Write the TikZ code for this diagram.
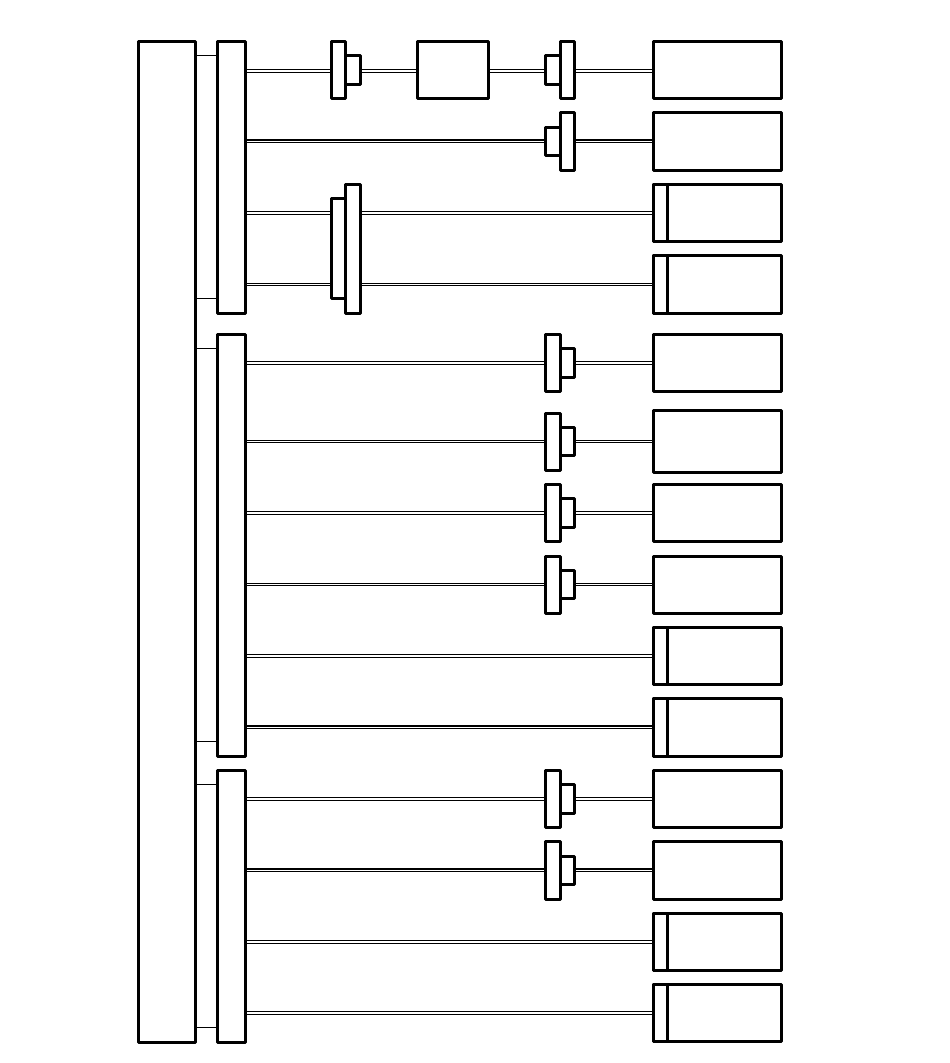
\documentclass[tikz,border=0pt]{standalone}
\usepackage{xcolor}
\usepackage{tikz}

\begin{document}
\begin{tikzpicture}[
    x=1pt,
    y=-1pt,
    block/.style={
        rectangle,
        draw=black,
        fill=white,
        line width=3pt,
        line join=round,
        inner sep=0pt
    },
    mainunit/.style={block, minimum width=57pt},
    bus/.style={block, minimum width=28pt},
    leaf/.style={block, minimum width=127.5pt, minimum height=57pt},
    strip/.style={block, minimum width=14pt, minimum height=57pt},
    relay/.style={block, minimum width=71pt, minimum height=57pt},
    tall/.style={block, minimum width=14.6pt, minimum height=57pt},
    small/.style={block, minimum width=14.6pt, minimum height=28.5pt},
    wire/.style={
        draw=black,
        line width=1.1pt,
        double=white,
        double distance=1.5pt
    },
    link/.style={
        draw=black,
        line width=1.1pt
    }
]

\useasboundingbox (0,0) rectangle (950,1063);

% Main unit and buses
\node[mainunit, minimum height=1000.5pt] (mainunit) at (167,541.75) {};
\node[bus, minimum height=272pt] (busa) at (231.5,177.5) {};
\node[bus, minimum height=421.5pt] (busb) at (231.5,545.25) {};
\node[bus, minimum height=271.5pt] (busc) at (231.5,906.25) {};

% Leaf boxes
\node[leaf] (leafa) at (717.25,70) {};
\node[leaf, minimum height=57.5pt] (leafb) at (717.25,141.25) {};
\node[leaf] (leafc) at (717.25,213) {};
\node[leaf, minimum height=58pt] (leafd) at (717.25,284.5) {};
\node[leaf] (leafe) at (717.25,363) {};
\node[leaf, minimum height=61.5pt] (leaff) at (717.25,441.5) {};
\node[leaf] (leafg) at (717.25,513) {};
\node[leaf] (leafh) at (717.25,584.5) {};
\node[leaf] (leafi) at (717.25,656) {};
\node[leaf, minimum height=57.5pt] (leafj) at (717.25,727.25) {};
\node[leaf] (leafk) at (717.25,799) {};
\node[leaf, minimum height=57.5pt] (leafl) at (717.25,870.25) {};
\node[leaf, minimum height=56.5pt] (leafm) at (717.25,941.75) {};
\node[leaf, minimum height=57.5pt] (leafn) at (717.25,1013) {};

% Strips on the leaf boxes
\node[strip] (stripc) at (660.5,213) {};
\node[strip, minimum height=58pt] (stripd) at (660.5,284.5) {};
\node[strip] (stripi) at (660.5,656) {};
\node[strip, minimum height=57.5pt] (stripj) at (660.5,727.25) {};
\node[strip, minimum height=56.5pt] (stripm) at (660.5,941.75) {};
\node[strip, minimum height=57.5pt] (stripn) at (660.5,1013) {};

% Top row
\node[relay] (relay) at (453,70) {};
\node[small, minimum width=15pt] (gatefrontb) at (353.2,69.75) {};
\node[tall, minimum width=14pt] (gatefronta) at (338.7,70) {};
\node[small] (gateab) at (552.9,69.75) {};
\node[tall] (gateaa) at (567.65,70) {};

% Shared double gate
\node[block, minimum width=14pt, minimum height=100pt] (sharedl) at (338.7,248.25) {};
\node[block, minimum width=15pt, minimum height=129pt] (sharedr) at (353.2,249) {};

% Gates
\node[small] (gatebb) at (552.9,141.25) {};
\node[tall, minimum height=57.5pt] (gateba) at (567.65,141.25) {};
\node[small] (gateeb) at (567.65,363) {};
\node[tall] (gateea) at (552.9,363) {};
\node[small] (gatefb) at (567.65,441.5) {};
\node[tall] (gatefa) at (552.9,442) {};
\node[small] (gategb) at (567.65,513) {};
\node[tall] (gatega) at (552.9,513) {};
\node[small] (gatehb) at (567.65,584.5) {};
\node[tall] (gateha) at (552.9,584.5) {};
\node[small] (gatekb) at (567.65,799) {};
\node[tall] (gateka) at (552.9,799) {};
\node[small] (gatelb) at (567.65,870.25) {};
\node[tall, minimum height=57.5pt] (gatela) at (552.9,870.25) {};

% Thin links
\coordinate (linka) at (0,55.4);
\coordinate (linkb) at (0,298.3);
\coordinate (linkc) at (0,348.5);
\coordinate (linkd) at (0,741.4);
\coordinate (linke) at (0,784.5);
\coordinate (linkf) at (0,1027.5);
\draw[link] (mainunit.east |- linka) -- (busa.west |- linka);
\draw[link] (mainunit.east |- linkb) -- (busa.west |- linkb);
\draw[link] (mainunit.east |- linkc) -- (busb.west |- linkc);
\draw[link] (mainunit.east |- linkd) -- (busb.west |- linkd);
\draw[link] (mainunit.east |- linke) -- (busc.west |- linke);
\draw[link] (mainunit.east |- linkf) -- (busc.west |- linkf);

% Wires
\coordinate (rowa) at (0,71.2);
\draw[wire] (busa.east |- rowa) -- (gatefronta.west |- rowa);
\draw[wire] (gatefrontb.east |- rowa) -- (relay.west |- rowa);
\draw[wire] (relay.east |- rowa) -- (gateab.west |- rowa);
\draw[wire] (gateaa.east |- rowa) -- (leafa.west |- rowa);

\draw[wire] (busa.east |- leafb.west) -- (gatebb.west);
\draw[wire] (gateba.east) -- (leafb.west);

\draw[wire] (busa.east |- leafc.west) -- (sharedl.west |- leafc.west);
\draw[wire] (sharedr.east |- leafc.west) -- (leafc.west);
\draw[wire] (busa.east |- leafd.west) -- (sharedl.west |- leafd.west);
\draw[wire] (sharedr.east |- leafd.west) -- (leafd.west);

\draw[wire] (busb.east |- leafe.west) -- (gateea.west);
\draw[wire] (gateeb.east) -- (leafe.west);
\draw[wire] (busb.east |- leaff.west) -- (gatefa.west |- leaff.west);
\draw[wire] (gatefb.east) -- (leaff.west);
\draw[wire] (busb.east |- leafg.west) -- (gatega.west);
\draw[wire] (gategb.east) -- (leafg.west);
\draw[wire] (busb.east |- leafh.west) -- (gateha.west);
\draw[wire] (gatehb.east) -- (leafh.west);
\draw[wire] (busb.east |- leafi.west) -- (leafi.west);
\draw[wire] (busb.east |- leafj.west) -- (leafj.west);

\draw[wire] (busc.east |- leafk.west) -- (gateka.west);
\draw[wire] (gatekb.east) -- (leafk.west);
\draw[wire] (busc.east |- leafl.west) -- (gatela.west);
\draw[wire] (gatelb.east) -- (leafl.west);
\draw[wire] (busc.east |- leafm.west) -- (leafm.west);
\draw[wire] (busc.east |- leafn.west) -- (leafn.west);

\end{tikzpicture}
\end{document}
